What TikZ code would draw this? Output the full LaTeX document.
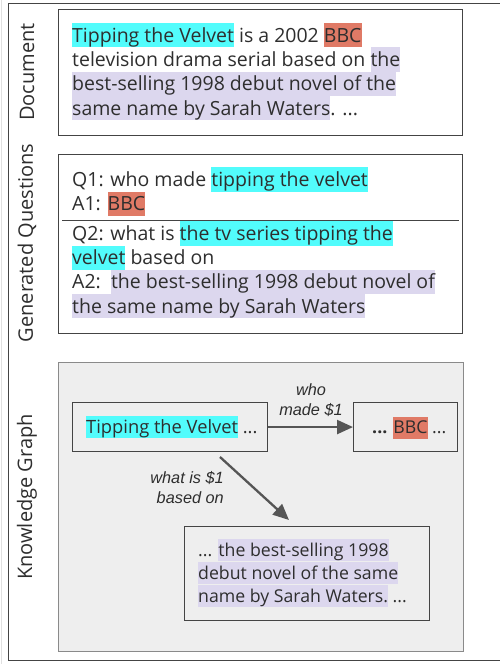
\documentclass[tikz,border=0pt]{standalone}
\usepackage{fontspec}
\setmainfont{Open Sans}
\newfontfamily\lblfont{Liberation Sans}
\usetikzlibrary{arrows.meta}
\definecolor{hlcyan}{HTML}{52FCFC}
\definecolor{hlred}{HTML}{E07A66}
\definecolor{hllav}{HTML}{DCD7EE}
\definecolor{txt}{HTML}{2E2E2E}
\definecolor{frame}{HTML}{444444}
\definecolor{kgfill}{HTML}{EEEEEE}
\definecolor{kgborder}{HTML}{8A8A8A}
\definecolor{arrowc}{HTML}{555555}
\newcommand\mystrutA{\rule[-5.3pt]{0pt}{24.3pt}}
\newcommand\mystrutB{\rule[-4.8pt]{0pt}{22pt}}
\newcommand\hlA[2]{{\setlength\fboxsep{0pt}\colorbox{#1}{\mystrutA#2}}}
\newcommand\hlB[2]{{\setlength\fboxsep{0pt}\colorbox{#1}{\mystrutB#2}}}
\begin{document}
\begin{tikzpicture}[x=1pt,y=-1pt,
  panel/.style={draw=frame, line width=1.3pt, anchor=north west, inner sep=0pt},
  doctext/.style={anchor=north west, inner sep=0pt, align=left, text=txt,
     font=\fontsize{19.5}{24.3}\selectfont},
  kgtext/.style={anchor=north west, inner sep=0pt, align=left, text=txt,
     font=\fontsize{18.3}{22}\selectfont},
  kgtextsmall/.style={kgtext, font=\fontsize{17.7}{21.7}\selectfont},
  kgnode/.style={draw=frame, line width=1.1pt, anchor=north west, inner sep=0pt},
  sidelabel/.style={rotate=90, text=txt, font=\fontsize{20}{22}\selectfont, inner sep=0pt},
  rellabel/.style={align=center, text=txt, inner sep=0pt,
     font=\lblfont\itshape\fontsize{16.3}{20}\selectfont},
  relarrow/.style={draw=arrowc, line width=2.3pt, -{Triangle[length=16pt,width=14pt]}}
]
\useasboundingbox (0,0) rectangle (500,666);
\fill[white] (0,0) rectangle (500,666);
% outer frame
\draw[black!12, line width=1pt] (1.5,0) -- (1.5,664);
\node[draw=frame, line width=1.3pt, anchor=north west, minimum width=492pt, minimum height=657pt, inner sep=0pt] (outer) at (7.5,3) {};

% side labels
\node[sidelabel] (ldoc) at (27,72) {Document};
\node[sidelabel] (lgq) at (27,243) {Generated Questions};
\node[sidelabel] (lkg) at (27,497) {Knowledge Graph};

% Document panel
\node[panel, minimum width=404pt, minimum height=126pt] (docbox) at (58,9) {};
\node[doctext] (doctxt) at (72,23) {%
\hlA{hlcyan}{Tipping the Velvet} is a 2002 \hlA{hlred}{BBC}\\
television drama serial based on \hlA{hllav}{the}\\
\hlA{hllav}{best-selling 1998 debut novel of the}\\
\hlA{hllav}{same name by Sarah Waters}. ...};

% Generated questions panel
\node[panel, minimum width=404pt, minimum height=179pt] (gqbox) at (58,154) {};
\node[doctext] (q1) at (72,167) {%
Q1: who made \hlA{hlcyan}{tipping the velvet}\\
A1: \hlA{hlred}{BBC}};
\coordinate (sepL) at (62,220);
\coordinate (sepR) at (459,220);
\draw[frame, line width=0.8pt] (sepL) -- (sepR);
\node[doctext] (q2) at (72,221) {%
Q2: what is \hlA{hlcyan}{the tv series tipping the}\\
\hlA{hlcyan}{velvet} based on\\
A2:\ \ \hlA{hllav}{the best-selling 1998 debut novel of}\\
\hlA{hllav}{the same name by Sarah Waters}};

% Knowledge graph panel
\node[draw=kgborder, fill=kgfill, line width=1.3pt, anchor=north west, inner sep=0pt,
      minimum width=405pt, minimum height=289pt] (kgbox) at (58,362) {};
\node[kgnode, minimum width=195pt, minimum height=49pt] (tip) at (72,402) {};
\node[kgtext] (tiptxt) at (86,416) {\hlB{hlcyan}{Tipping the Velvet} ...};
\node[kgnode, minimum width=104pt, minimum height=49pt] (bbc) at (353,402) {};
\node[kgtextsmall] (bbctxt) at (372,416.3) {\textbf{...} \hlB{hlred}{BBC} ...};
\node[kgnode, minimum width=245pt, minimum height=94pt] (novel) at (184,526) {};
\node[kgtextsmall] (noveltxt) at (198,539) {%
... \hlB{hllav}{the best-selling 1998}\\
\hlB{hllav}{debut novel of the same}\\
\hlB{hllav}{name by Sarah Waters.} ...};

\draw[relarrow] (tip.east) -- (bbc.west);
\node[rellabel] (who) at (311,400) {who\\made \$1};
\coordinate (a2s) at (220,457);
\coordinate (a2e) at (289,520);
\draw[relarrow] (a2s) -- (a2e);
\node[rellabel, align=right, anchor=east] (what) at (224,488) {what is \$1\\based on};
\end{tikzpicture}
\end{document}
